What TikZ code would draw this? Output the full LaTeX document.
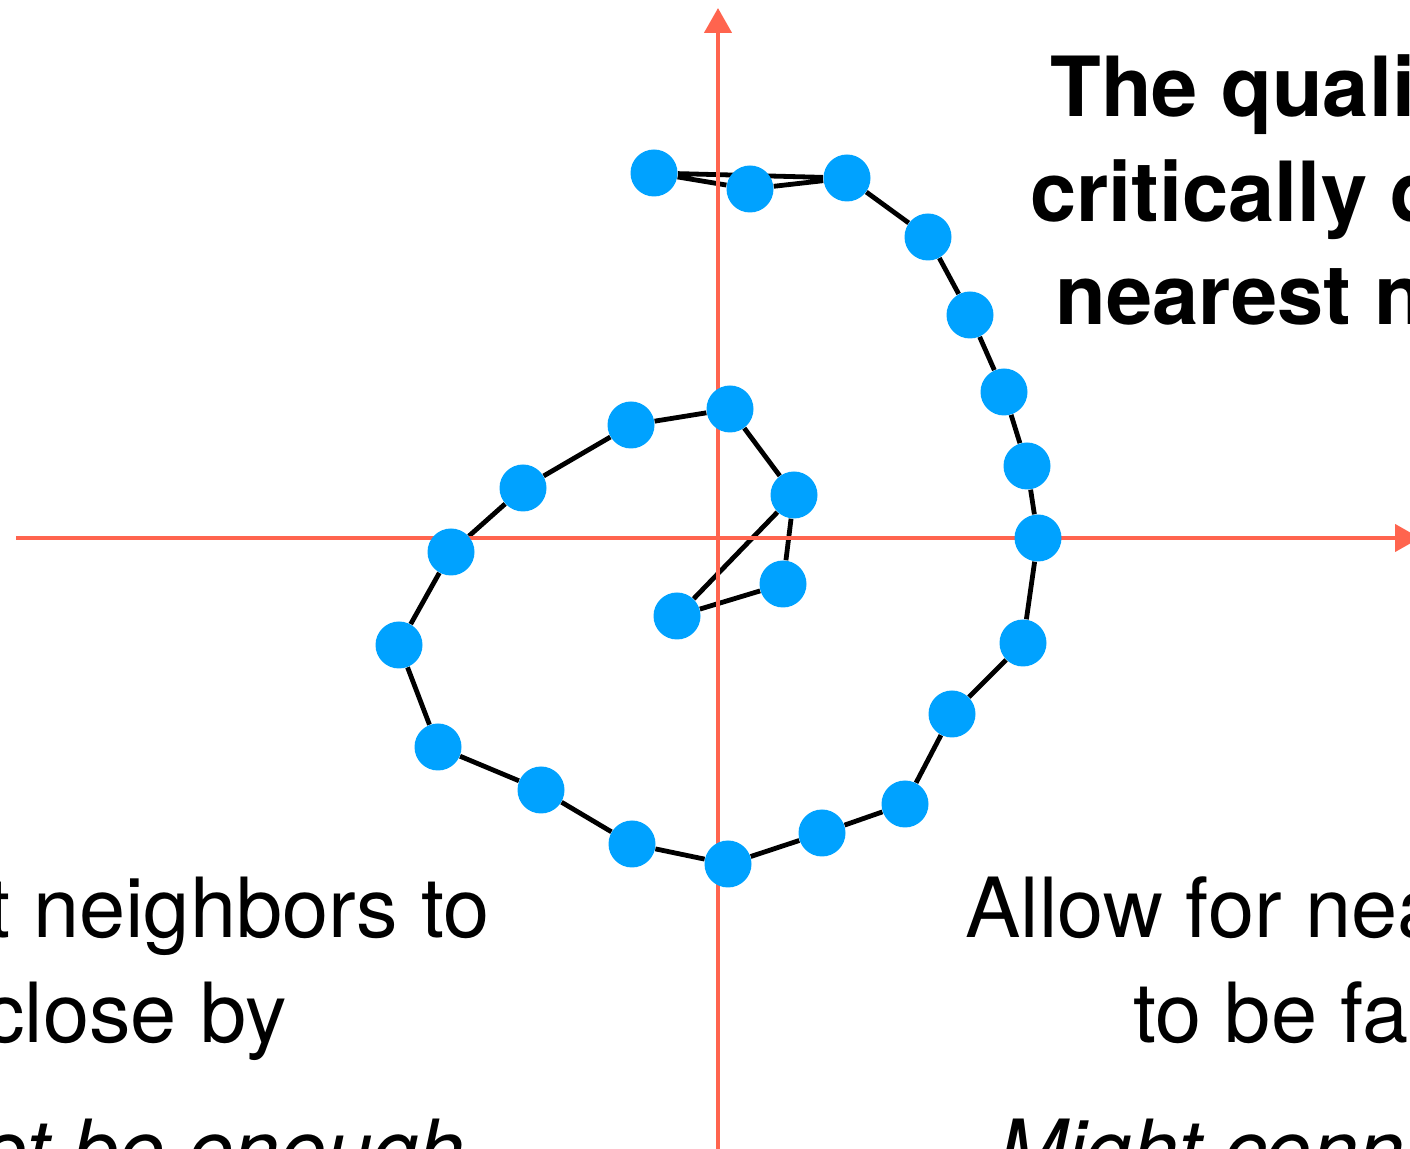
\documentclass[tikz,border=0pt]{standalone}
\usepackage{fontspec}
\setmainfont{TeX Gyre Heros}
\usetikzlibrary{arrows.meta}
\definecolor{dotblue}{RGB}{0,162,255}
\definecolor{axisred}{RGB}{255,100,78}
\pgfdeclarelayer{edges}
\pgfdeclarelayer{axes}
\pgfsetlayers{edges,axes,main}
\begin{document}
\begin{tikzpicture}[
x=0.5pt,y=-0.5pt,
dot/.style={
circle,fill=dotblue,
inner sep=0pt,
minimum size=23.5pt
},
link/.style={line width=2.4pt, black},
axis/.style={line width=2.2pt, axisred, -{Triangle[width=13.5pt,length=12.5pt]}},
headtext/.style={inner sep=0pt, font=\fontsize{41.5}{52}\selectfont\bfseries},
slidetext/.style={inner sep=0pt, font=\fontsize{41.5}{52}\selectfont}
]
\useasboundingbox (0,0) rectangle (1410,1149);
\clip (0,0) rectangle (1410,1149);

% =======================
% AXES
% =======================

\coordinate (axl) at (16,538);
\coordinate (axr) at (1420,538);
\coordinate (ayb) at (718,1160);
\coordinate (ayt) at (718,8);

% =======================
% POINTS (outer spiral)
% =======================

\node[dot] (p1) at (654,173) {};
\node[dot] (p2) at (750,189) {};
\node[dot] (p3) at (847,178) {};
\node[dot] (p4) at (928,237) {};
\node[dot] (p5) at (970,315) {};
\node[dot] (p6) at (1004,392) {};
\node[dot] (p7) at (1027,466) {};
\node[dot] (p8) at (1038,538) {};
\node[dot] (p9) at (1023,643) {};
\node[dot] (p10) at (952,714) {};
\node[dot] (p11) at (905,804) {};
\node[dot] (p12) at (822,833) {};
\node[dot] (p13) at (728,864) {};
\node[dot] (p14) at (632,844) {};
\node[dot] (p15) at (541,790) {};
\node[dot] (p16) at (438,747) {};
\node[dot] (p17) at (399,645) {};
\node[dot] (p18) at (451,552) {};
\node[dot] (p19) at (523,488) {};
\node[dot] (p20) at (631,425) {};

% =======================
% POINTS (inner)
% =======================

\node[dot] (p21) at (730,409) {};
\node[dot] (p22) at (794,495) {};
\node[dot] (p23) at (783,584) {};
\node[dot] (p24) at (677,616) {};

% =======================
% TEXT
% =======================

\node[headtext,anchor=base west] (head1) at (1050,117) {The quality};
\node[headtext,anchor=base west] (head2) at (1030,222) {critically depends};
\node[headtext,anchor=base west] (head3) at (1055,325) {nearest neighbors};

\node[slidetext,anchor=base east] (left1) at (490,938) {t neighbors to};
\node[slidetext,anchor=base east] (left2) at (287,1043) {close by};
\node[slidetext,anchor=base east] (left3) at (465,1179) {\itshape not be enough};

\node[slidetext,anchor=base west] (right1) at (965,938) {Allow for nearest};
\node[slidetext,anchor=base west] (right2) at (1133,1043) {to be far};
\node[slidetext,anchor=base west] (right3) at (998,1179) {\itshape Might connect};

% =======================
% AXIS ARROWS
% =======================

\begin{pgfonlayer}{axes}
\draw[axis] (axl) -- (axr);
\draw[axis] (ayb) -- (ayt);
\end{pgfonlayer}

% =======================
% LINKS
% =======================

\begin{pgfonlayer}{edges}
\draw[link] (p1) -- (p2) -- (p3) -- (p1);
\draw[link] (p3) -- (p4) -- (p5) -- (p6) -- (p7) -- (p8) -- (p9) -- (p10)
  -- (p11) -- (p12) -- (p13) -- (p14) -- (p15) -- (p16) -- (p17)
  -- (p18) -- (p19) -- (p20) -- (p21) -- (p22);
\draw[link] (p22) -- (p23) -- (p24) -- (p22);
\end{pgfonlayer}

\end{tikzpicture}
\end{document}
